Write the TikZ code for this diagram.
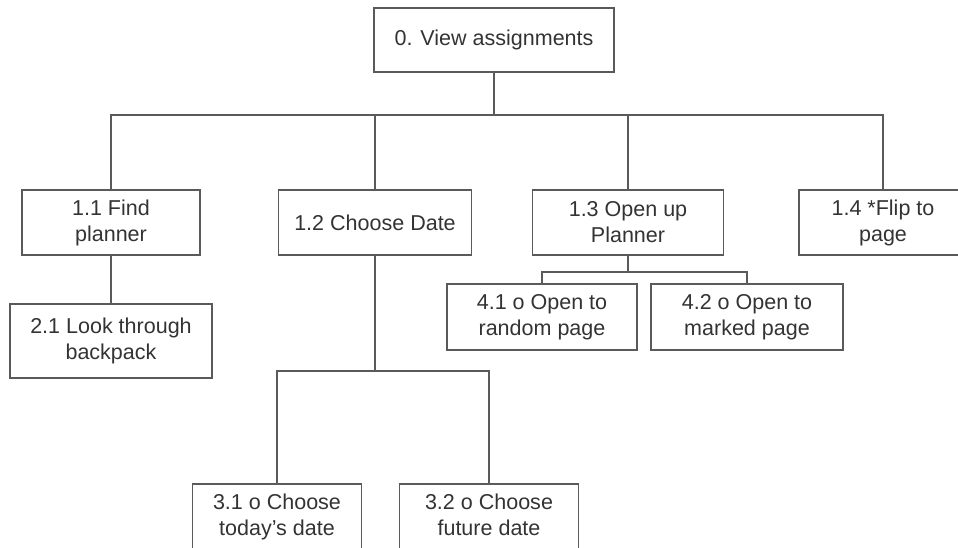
\documentclass[tikz,border=0pt]{standalone}
\usepackage{fontspec}
\setmainfont{Liberation Sans}
\definecolor{linegray}{HTML}{5A5A5A}
\definecolor{textgray}{HTML}{333333}
\begin{document}
\begin{tikzpicture}[
        x=0.025cm, y=-0.025cm,
        every node/.style={draw=linegray, line width=0.9pt, rectangle, align=center,
            text=textgray, font=\fontsize{15.3}{18.4}\selectfont, inner sep=0pt},
        box/.style 2 args={minimum width=#1*0.025cm, minimum height=#2*0.025cm},
        ln/.style={draw=linegray, line width=0.9pt},
    ]
    \useasboundingbox (0,0) rectangle (958,547);

    \node[box={240}{64}](0) at (494,40) {0. View assignments};
    \node[box={178}{65}](11) at (111,222.5) {1.1 Find\\planner};
    \node[box={193}{65}](12) at (375,222.5) {1.2 Choose Date};
    \node[box={191}{65}](13) at (628,222.5) {1.3 Open up\\Planner};
    \node[box={168}{65}](14) at (883,222.5) {1.4 *Flip to\\page};
    \node[box={202}{74}](21) at (111,341) {2.1 Look through\\backpack};
    \node[box={190}{66}](41) at (542,317) {4.1 o Open to\\random page};
    \node[box={192}{66}](42) at (747,317) {4.2 o Open to\\marked page};
    \node[box={169}{65}](31) at (277,516.5) {3.1 o Choose\\today's date};
    \node[box={179}{65}](32) at (489,516.5) {3.2 o Choose\\future date\vphantom{y}};

    \coordinate (b0) at (494,115);
    \coordinate (b3) at (628,272);
    \coordinate (b2) at (375,371);

    \path[ln]
    (0) edge (b0)
    (b0 -| 12) edge (12)
    (b0 -| 13) edge (13)
    (11) edge (21)
    (13) edge (b3)
    (12) edge (b2)
    ;
    \draw[ln] (11) |- (b0) -| (14);
    \draw[ln] (41) |- (b3) -| (42);
    \draw[ln] (31) |- (b2) -| (32);
    \end{tikzpicture}
\end{document}
